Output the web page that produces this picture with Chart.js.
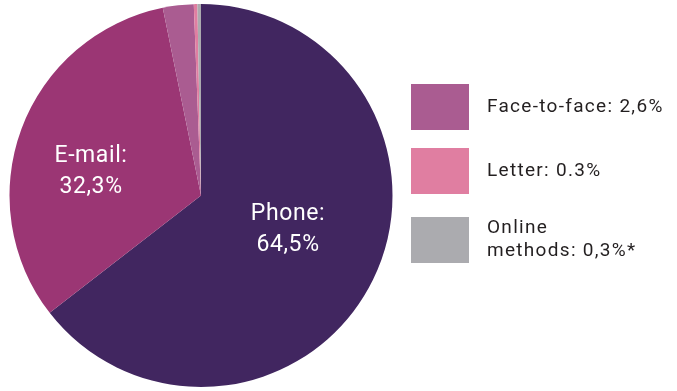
<!DOCTYPE html>
<html>
<head>
<meta charset="utf-8">
<script src="https://cdn.jsdelivr.net/npm/chart.js@4/dist/chart.umd.min.js"></script>
<style>
  html, body { margin: 0; padding: 0; background: #ffffff; }
  #wrap { position: relative; width: 677px; height: 391px; }
</style>
</head>
<body>
<div id="wrap"><canvas id="c" width="677" height="391"></canvas></div>
<script>
const categories = ['Phone', 'E-mail', 'Face-to-face', 'Letter', 'Online methods'];
const values = [64.5, 32.3, 2.6, 0.3, 0.3];
const sliceLabels = [['Phone:', '64,5%'], ['E-mail:', '32,3%'], null, null, null];
const legendLabels = [null, null, ['Face-to-face: 2,6%'], ['Letter: 0.3%'], ['Online', 'methods: 0,3%*']];
const colors = ['#412660', '#9b3674', '#aa5c91', '#e07ea1', '#ababaf'];

// style: label offsets from pie centre, legend geometry
const sliceLabelOffsets = [[87, 34], [-110, -24], null, null, null];
const legendTops = [null, null, 84, 148, 217];

const FONT = 'Roboto, "DejaVu Sans", sans-serif';

const labelPlugin = {
  id: 'sliceLabels',
  afterDatasetsDraw(chart) {
    const ctx = chart.ctx;
    const meta = chart.getDatasetMeta(0);
    const arc0 = meta.data[0];
    const cx = arc0.x, cy = arc0.y;
    ctx.save();
    ctx.fillStyle = '#ffffff';
    ctx.textAlign = 'center';
    ctx.textBaseline = 'middle';
    ctx.font = '23px ' + FONT;
    if ('letterSpacing' in ctx) ctx.letterSpacing = '0.6px';
    sliceLabels.forEach((lines, i) => {
      if (!lines) return;
      const off = sliceLabelOffsets[i];
      const lh = 31;
      const startY = cy + off[1] - (lines.length - 1) * lh / 2;
      lines.forEach((t, k) => ctx.fillText(t, cx + off[0], startY + k * lh));
    });
    ctx.restore();
  }
};

const legendPlugin = {
  id: 'sideLegend',
  afterDraw(chart) {
    const ctx = chart.ctx;
    const bg = chart.data.datasets[0].backgroundColor;
    ctx.save();
    ctx.font = '19px ' + FONT;
    if ('letterSpacing' in ctx) ctx.letterSpacing = '1.3px';
    ctx.textAlign = 'left';
    ctx.textBaseline = 'middle';
    legendLabels.forEach((lines, i) => {
      if (!lines) return;
      const top = legendTops[i];
      const bw = 58, bh = 46, bx = 411;
      ctx.fillStyle = bg[i];
      ctx.fillRect(bx, top, bw, bh);
      ctx.fillStyle = '#231f20';
      const lh = 23;
      const midY = top + bh / 2;
      const startY = midY - (lines.length - 1) * lh / 2;
      lines.forEach((t, k) => ctx.fillText(t, 487, startY + k * lh));
    });
    ctx.restore();
  }
};

new Chart(document.getElementById('c'), {
  type: 'pie',
  data: {
    labels: categories,
    datasets: [{
      data: values,
      backgroundColor: colors,
      borderWidth: 0
    }]
  },
  options: {
    responsive: false,
    animation: false,
    layout: { padding: { left: 4, right: 279, top: 4, bottom: 4 } },
    plugins: {
      legend: { display: false },
      tooltip: { enabled: false }
    }
  },
  plugins: [labelPlugin, legendPlugin]
});
</script>
</body>
</html>
